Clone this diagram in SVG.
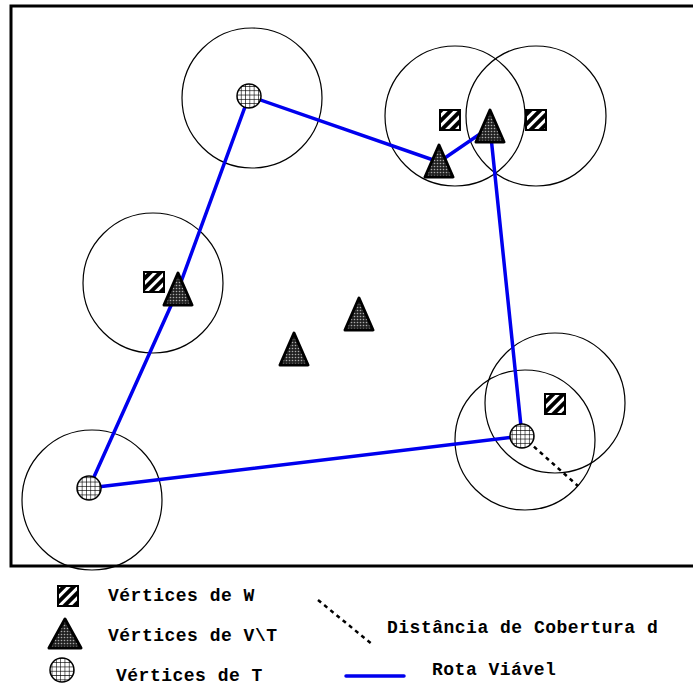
<svg xmlns="http://www.w3.org/2000/svg" width="693" height="686" viewBox="0 0 693 686">
  <style>
    .frame { fill: none; stroke: #000; stroke-width: 3; }
    .range { fill: none; stroke: #000; stroke-width: 1.2; }
    .route { fill: none; stroke: #0000ee; stroke-width: 3.5; stroke-linecap: round; }
    .radius { fill: none; stroke: #000; stroke-width: 2.5; stroke-dasharray: 4 4; }
    .tri { fill: url(#dots); stroke: #000; stroke-width: 3; stroke-linejoin: round; }
    .sq { fill: url(#stripes); stroke: #000; stroke-width: 2; }
    .term { fill: url(#grid); stroke: #000; stroke-width: 1.5; }
    .lbl { font-family: "Liberation Mono", "Courier New", monospace; font-weight: bold; font-size: 18px; letter-spacing: 0.5px; fill: #000; }
  </style>
  <defs>
    <pattern id="dots" width="3" height="3" patternUnits="userSpaceOnUse">
      <rect width="3" height="3" fill="#222"/>
      <circle cx="1.5" cy="1.5" r="0.8" fill="#aaa"/>
    </pattern>
    <pattern id="stripes" width="7" height="7" patternUnits="userSpaceOnUse" patternTransform="rotate(45)">
      <rect width="7" height="7" fill="#000"/>
      <rect width="3" height="7" fill="#fff"/>
    </pattern>
    <pattern id="grid" width="4.3" height="4.3" patternUnits="userSpaceOnUse">
      <rect width="4.3" height="4.3" fill="#fff"/>
      <path d="M0 0H4.3M0 0V4.3" stroke="#000" stroke-width="1.2"/>
    </pattern>
    <polygon id="triShape" points="0,-17 14,15 -14,15"/>
  </defs>

  <rect class="frame" x="11" y="6" width="684" height="560"/>

  <!-- coverage circles -->
  <g id="coverage">
    <circle class="range" cx="252" cy="98" r="70"/>
    <circle class="range" cx="455" cy="116" r="70"/>
    <circle class="range" cx="536" cy="116" r="70"/>
    <circle class="range" cx="153" cy="283" r="70"/>
    <circle class="range" cx="92" cy="500" r="70"/>
    <circle class="range" cx="525" cy="440" r="70"/>
    <circle class="range" cx="555" cy="403" r="70"/>
  </g>

  <!-- connectors -->
  <g id="connectors">
    <polyline class="route" points="89,488 178,290 249,96 439,162 490,127 522,436 89,488"/>
    <line class="radius" x1="522" y1="436" x2="578" y2="486"/>
  </g>

  <!-- W vertices -->
  <g id="w1"><rect class="sq" x="440" y="110" width="20" height="20"/></g>
  <g id="w2"><rect class="sq" x="526" y="110" width="20" height="20"/></g>
  <g id="w3"><rect class="sq" x="144" y="272" width="20" height="20"/></g>
  <g id="w4"><rect class="sq" x="545" y="394" width="20" height="20"/></g>

  <!-- V\T vertices -->
  <g id="v1"><use href="#triShape" class="tri" x="439" y="162"/></g>
  <g id="v2"><use href="#triShape" class="tri" x="490" y="127"/></g>
  <g id="v3"><use href="#triShape" class="tri" x="178" y="290"/></g>
  <g id="v4"><use href="#triShape" class="tri" x="359" y="315"/></g>
  <g id="v5"><use href="#triShape" class="tri" x="294" y="350"/></g>

  <!-- T vertices -->
  <g id="t1"><circle class="term" cx="249" cy="96" r="12"/></g>
  <g id="t2"><circle class="term" cx="89" cy="488" r="12"/></g>
  <g id="t3"><circle class="term" cx="522" cy="436" r="12"/></g>

  <!-- legend -->
  <g id="legend">
    <rect class="sq" x="58" y="586" width="20" height="20"/>
    <polygon class="tri" points="65,619 81,648 49,648"/>
    <circle class="term" cx="62" cy="670" r="12"/>
    <line class="radius" x1="318" y1="600" x2="373" y2="645" stroke-dasharray="3 4"/>
    <line class="route" x1="346" y1="676" x2="404" y2="676" stroke-linecap="butt"/>
    <text class="lbl" x="108" y="601">Vértices de W</text>
    <text class="lbl" x="108" y="641">Vértices de V\T</text>
    <text class="lbl" x="116" y="681">Vértices de T</text>
    <text class="lbl" x="387" y="633">Distância de Cobertura d</text>
    <text class="lbl" x="432" y="675">Rota Viável</text>
  </g>
</svg>
